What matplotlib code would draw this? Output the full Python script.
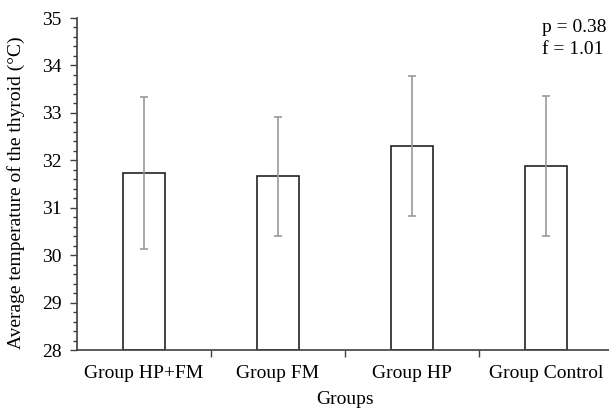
import matplotlib.pyplot as plt
import numpy as np
from matplotlib.ticker import MultipleLocator

plt.rcParams['font.family'] = ['Liberation Serif', 'DejaVu Serif']
plt.rcParams['font.size'] = 14

groups = ['Group HP+FM', 'Group FM', 'Group HP', 'Group Control']
means = [31.73, 31.66, 32.30, 31.88]
errors = [1.60, 1.26, 1.48, 1.47]

fig = plt.figure(figsize=(6.09, 4.08), dpi=100)
ax = fig.add_axes([77 / 609, 1 - 350 / 408, 536 / 609, 332 / 408])

x = np.arange(len(groups))
ax.bar(x, [m - 28 for m in means], bottom=28, width=0.313, color='white',
       edgecolor='#222222', linewidth=1.2, zorder=2)
ax.errorbar(x, means, yerr=errors, fmt='none', ecolor='#999999',
            elinewidth=1.2, capsize=3, capthick=1.2, zorder=3)

ax.set_xlim(-0.5, 3.5)
ax.set_ylim(28, 35)
ax.yaxis.set_major_locator(MultipleLocator(1))
ax.yaxis.set_minor_locator(MultipleLocator(0.2))
ax.set_xticks(x)
ax.set_xticklabels(groups)
ax.set_xticks(np.arange(0.5, 4, 1), minor=True)
ax.tick_params(axis='x', which='major', length=0, pad=11)
ax.tick_params(axis='x', which='minor', length=5, width=1, color='#404040', direction='out')
ax.tick_params(axis='y', which='major', length=5, width=1, color='#404040', pad=6)
ax.tick_params(axis='y', which='minor', length=3, width=1, color='#404040')

for s in ['top', 'right']:
    ax.spines[s].set_visible(False)
for s in ['left', 'bottom']:
    ax.spines[s].set_color('#404040')
    ax.spines[s].set_linewidth(1.2)

ax.set_xlabel('Groups', labelpad=6)
ax.set_ylabel('Average temperature of the thyroid (°C)')
ax.yaxis.set_label_coords(-0.097, 0.473)

fig.text(542 / 609, 1 - 28 / 408, 'p = 0.38', va='center', ha='left', fontsize=14)
fig.text(542 / 609, 1 - 50 / 408, 'f = 1.01', va='center', ha='left', fontsize=14)

fig.savefig('out.png', dpi=100)
